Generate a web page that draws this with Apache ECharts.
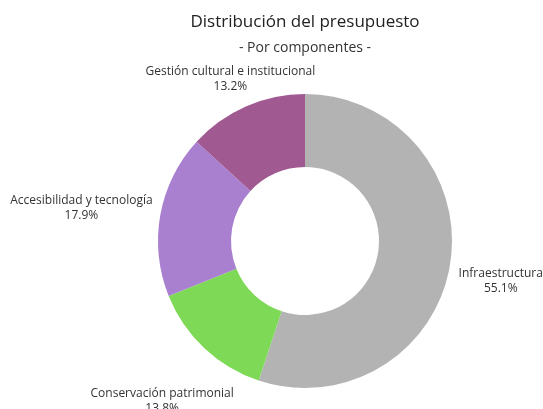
<!DOCTYPE html>
<html>
<head>
<meta charset="utf-8">
<script src="https://cdn.jsdelivr.net/npm/echarts@6/dist/echarts.min.js"></script>
<style>
  html, body { margin: 0; padding: 0; background: #fff; }
  #chart { width: 543px; height: 409px; }
</style>
</head>
<body>
<div id="chart"></div>
<script>
var categories = ['Infraestructura', 'Conservación patrimonial', 'Accesibilidad y tecnología', 'Gestión cultural e institucional'];
var shares = [55.1, 13.8, 17.9, 13.2];
var colors = ['#b3b3b3', '#7ed957', '#a980d0', '#a05991'];

var pieCenter = [305, 241];
var outerR = 147;
var labelGap = 7.5;
var labelDrop = 8; // text sits a bit lower than its layout box

var myChart = echarts.init(document.getElementById('chart'));

var pieData = categories.map(function (name, i) {
    return { name: name, value: shares[i] };
});

var total = shares.reduce(function (a, b) { return a + b; }, 0);

// mid angle of a slice, clockwise from 12 o'clock
function midAngle(idx) {
    var before = 0;
    for (var i = 0; i < idx; i++) before += shares[i];
    return (before + shares[idx] / 2) / total * Math.PI * 2;
}

// distance from pie center to the closest point of a box centered at (bx, by)
function boxClearance(bx, by, w, h) {
    var nx = Math.max(bx - w / 2, Math.min(0, bx + w / 2));
    var ny = Math.max(by - h / 2, Math.min(0, by + h / 2));
    return Math.sqrt(nx * nx + ny * ny);
}

var option = {
    animation: false,
    color: colors,
    title: {
        text: 'Distribución del presupuesto',
        subtext: '- Por componentes -',
        left: 300,
        top: 9,
        textAlign: 'center',
        itemGap: 10,
        textStyle: { fontFamily: 'Open Sans', fontSize: 17, fontWeight: 'normal', color: '#222' },
        subtextStyle: { fontFamily: 'Open Sans', fontSize: 14, color: '#333' }
    },
    series: [{
        type: 'pie',
        center: pieCenter,
        radius: [74, outerR],
        startAngle: 90,
        clockwise: true,
        data: pieData,
        label: {
            show: true,
            position: 'outside',
            formatter: '{b}\n{d}%',
            fontFamily: 'Open Sans',
            fontSize: 12,
            lineHeight: 15,
            color: '#333',
            overflow: 'none'
        },
        labelLine: { show: false },
        labelLayout: function (params) {
            var r = params.labelRect;
            var a = midAngle(params.dataIndex);
            var dx = Math.sin(a), dy = -Math.cos(a);
            var lo = 0, hi = 600;
            for (var k = 0; k < 40; k++) {
                var mid = (lo + hi) / 2;
                if (boxClearance(mid * dx, mid * dy, r.width, r.height) < outerR + labelGap) lo = mid;
                else hi = mid;
            }
            return {
                x: pieCenter[0] + hi * dx,
                y: pieCenter[1] + hi * dy + labelDrop,
                align: 'center',
                verticalAlign: 'middle'
            };
        },
        emphasis: { disabled: true }
    }]
};

myChart.setOption(option);
</script>
</body>
</html>
